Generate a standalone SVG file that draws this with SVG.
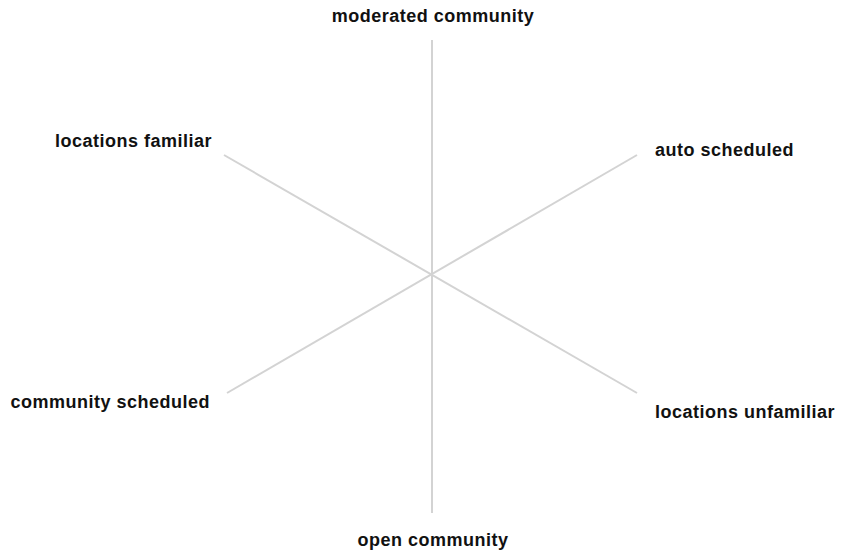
<svg xmlns="http://www.w3.org/2000/svg" width="842" height="552" viewBox="0 0 842 552">
<style>
.ax{stroke:#d3d3d3;stroke-width:2;fill:none}
.lb{font-family:"Liberation Sans",Arial,sans-serif;font-weight:bold;font-size:18px;letter-spacing:0.5px;fill:#111}
</style>
<rect width="842" height="552" fill="#fff"/>
<g id="connectors">
<line class="ax" x1="432" y1="40" x2="432" y2="513"/>
<line class="ax" x1="224" y1="155" x2="637" y2="393"/>
<line class="ax" x1="227" y1="393" x2="637" y2="155"/>
</g>
<g id="moderated"><text class="lb" x="433" y="22" text-anchor="middle">moderated community</text></g>
<g id="open"><text class="lb" x="433" y="546" text-anchor="middle">open community</text></g>
<g id="familiar"><text class="lb" x="212" y="147" text-anchor="end">locations familiar</text></g>
<g id="auto"><text class="lb" x="655" y="156">auto scheduled</text></g>
<g id="communitysched"><text class="lb" x="210" y="408" text-anchor="end">community scheduled</text></g>
<g id="unfamiliar"><text class="lb" x="655" y="418">locations unfamiliar</text></g>
</svg>
